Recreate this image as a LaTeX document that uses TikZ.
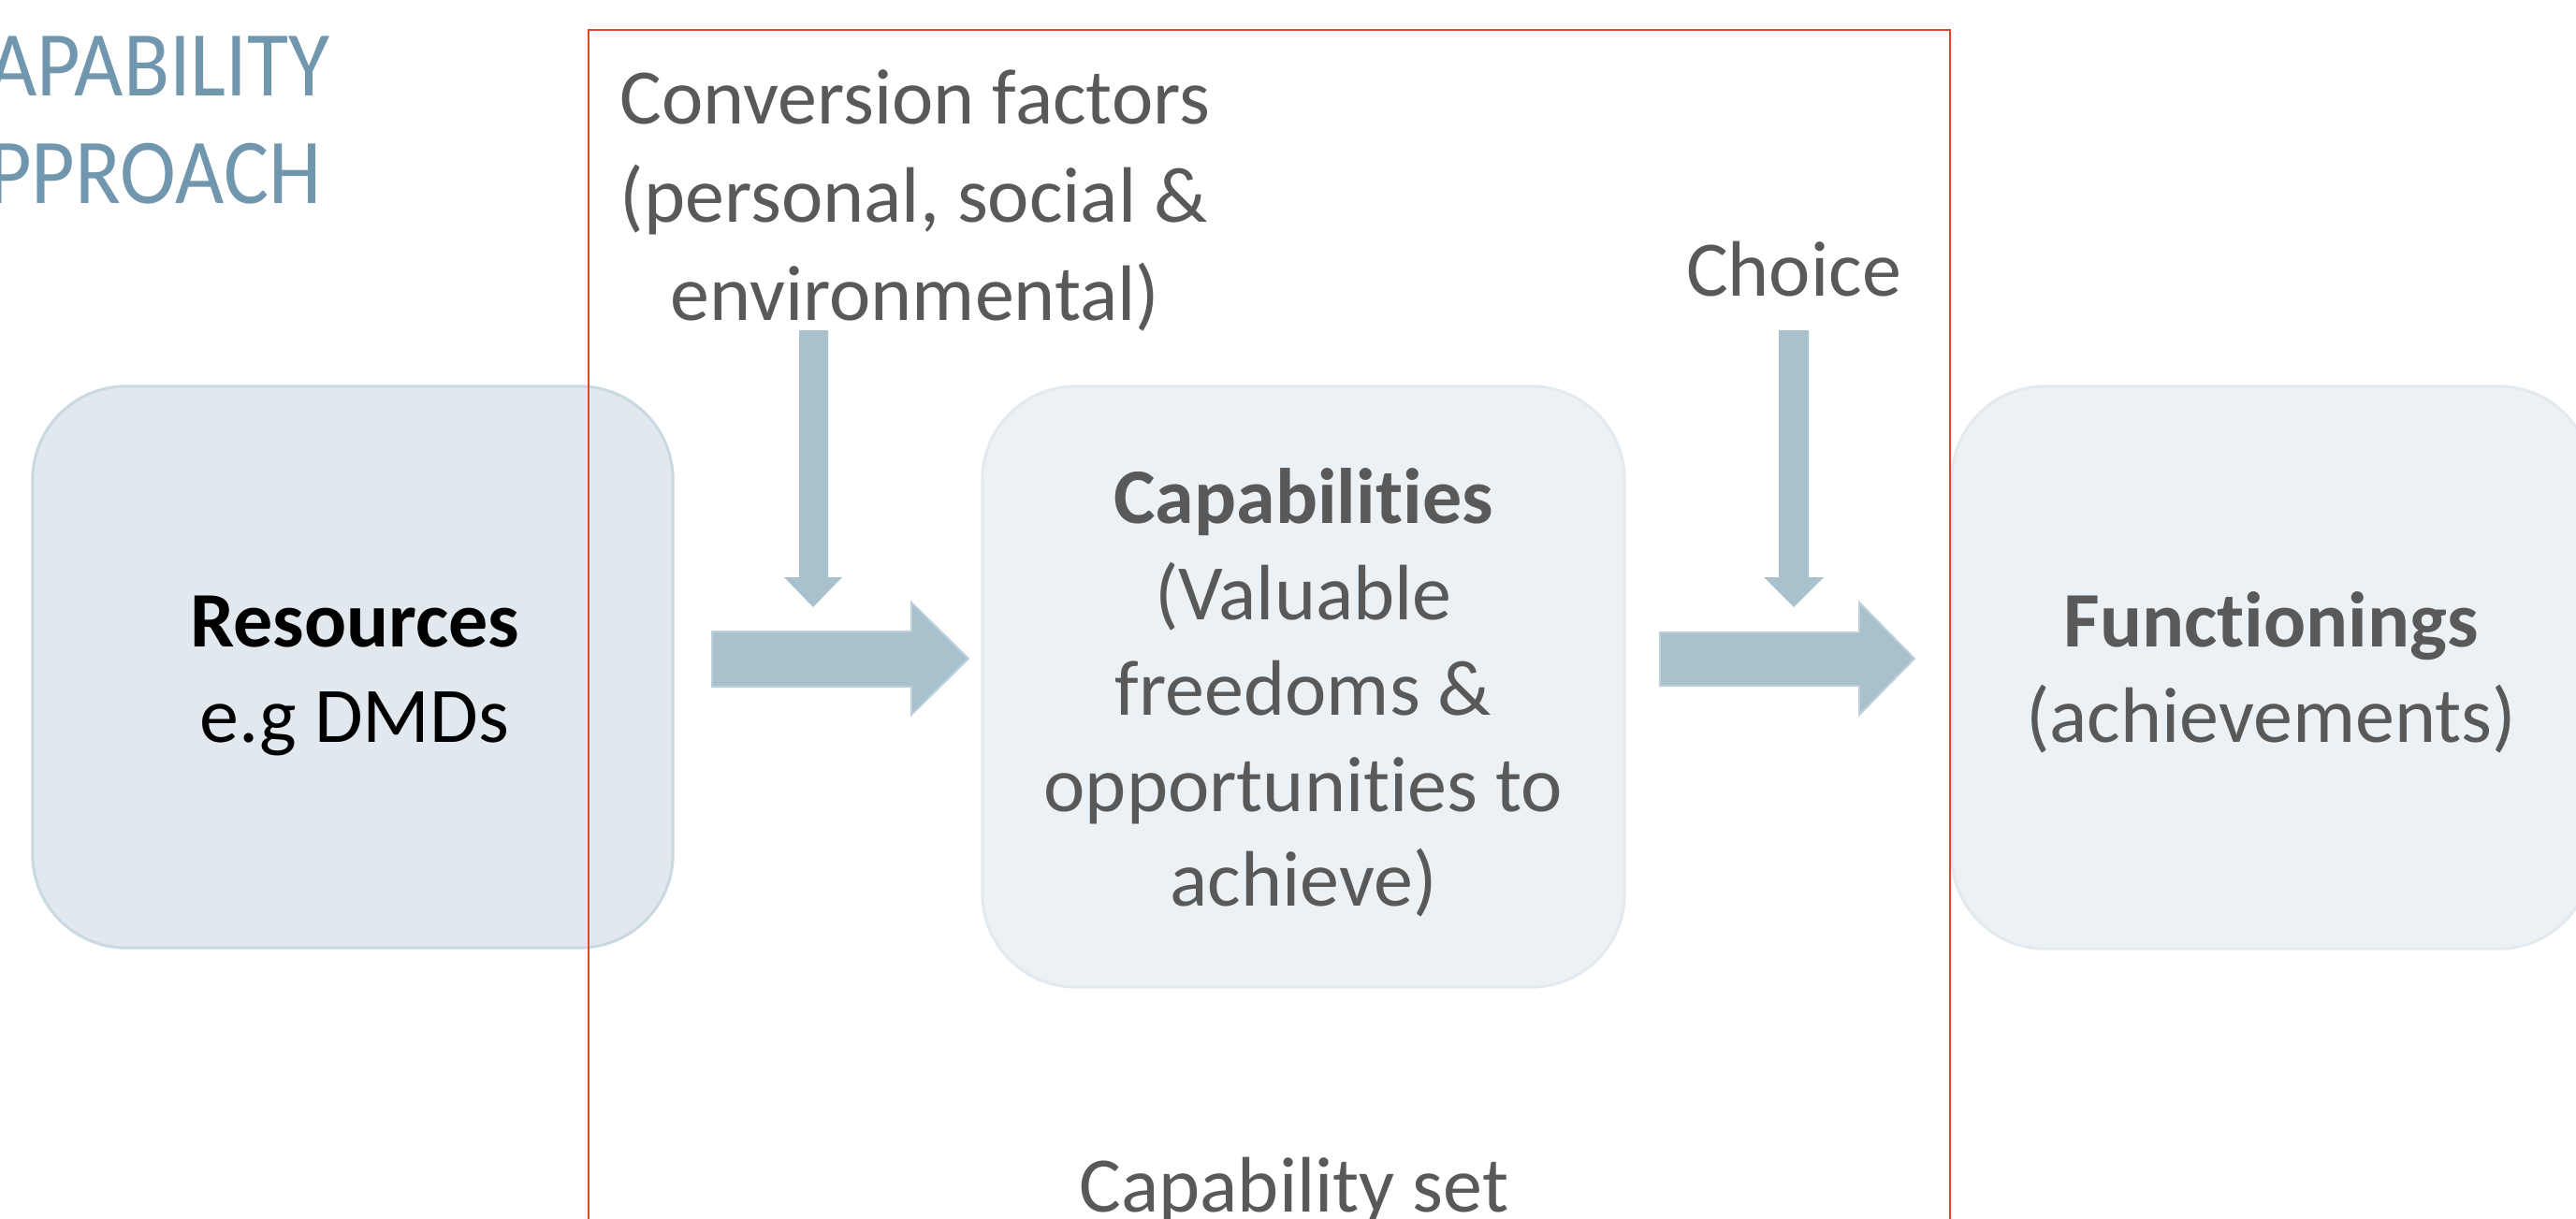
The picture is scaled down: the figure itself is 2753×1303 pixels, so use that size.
\documentclass[tikz,border=0pt]{standalone}
\usepackage{fontspec}
\setmainfont{Carlito}[Ligatures=NoCommon]
\definecolor{titleblue}{HTML}{7097AE}
\definecolor{txtgray}{HTML}{595959}
\definecolor{arrowblue}{HTML}{A9C1CD}
\definecolor{arrowedge}{HTML}{BDD0DA}
\definecolor{boxonefill}{HTML}{E1E9EF}
\definecolor{boxoneedge}{HTML}{C9D9E2}
\definecolor{boxfill}{HTML}{EBF1F4}
\definecolor{boxedge}{HTML}{E2EAEF}
\definecolor{setred}{HTML}{E8432D}
\begin{document}
\begin{tikzpicture}[x=0.01cm,y=-0.01cm,
  txt/.style={text=txtgray, font=\fontsize{23.9}{29}\selectfont, inner sep=0pt, anchor=base},
  txtb/.style={txt, font=\fontsize{23.9}{29}\selectfont\bfseries},
  titletxt/.style={text=titleblue, font=\fontsize{28.2}{32.7}\selectfont, inner sep=0pt, anchor=base east},
  rbox/.style={draw, line width=0.03cm, rounded corners=1cm, inner sep=0pt},
  blockarrow/.style={fill=arrowblue, draw=arrowedge, line width=0.02cm},
  setframe/.style={draw=setred, line width=0.028cm}]
\useasboundingbox (0,0) rectangle (2753,1303);
\clip (0,0) rectangle (2753,1303);
\fill[white] (0,0) rectangle (2753,1303);

% boxes
\node (res) [rbox, draw=boxoneedge, fill=boxonefill, minimum width=6.84cm, minimum height=6cm] at (377,713) {};
\node (cap) [rbox, draw=boxedge, fill=boxfill, minimum width=6.86cm, minimum height=6.42cm] at (1393,734) {};
\node (fun) [rbox, draw=boxedge, fill=boxfill, minimum width=6.84cm, minimum height=6.01cm] at (2428,713.5) {};

% block arrows
\draw[blockarrow] (761,675) -- (974,675) -- (974,644) -- (1035,704) -- (974,764) -- (974,734) -- (761,734) -- cycle;
\draw[blockarrow] (1774,676) -- (1987,676) -- (1987,644) -- (2046,704) -- (1987,764) -- (1987,733) -- (1774,733) -- cycle;
\fill[arrowblue] (854,353) -- (885,353) -- (885,617) -- (900,617) -- (869,649) -- (838,617) -- (854,617) -- cycle;
\fill[arrowblue] (1901,353) -- (1933,353) -- (1933,617) -- (1949,617) -- (1917,649) -- (1885,617) -- (1901,617) -- cycle;

% capability set frame
\draw[setframe] (629,32) rectangle (2084,1400);

% title
\node (t1) [titletxt] at (353,102) {\scalebox{0.91}[1]{APABILITY}};
\node (t2) [titletxt] at (344,217) {\scalebox{0.91}[1]{PPROACH}};

% texts
\node (r1) [txtb, text=black] at (379,691) {Resources};
\node (r2) [txt, text=black] at (379,793) {e.g DMDs};

\node (c1) [txtb] at (1393,559) {Capabilities};
\node (c2) [txt] at (1393,662) {(Valuable};
\node (c3) [txt] at (1393,764) {freedoms \&};
\node (c4) [txt] at (1393,867) {opportunities to};
\node (c5) [txt] at (1393,968) {achieve)};

\node (f1) [txtb] at (2427,691) {Functionings};
\node (f2) [txt] at (2427,793) {(achievements)};

\node (cv1) [txt] at (978,132) {Conversion factors};
\node (cv2) [txt] at (977,237) {(personal, social \&};
\node (cv3) [txt] at (978,342) {environmental)};

\node (ch) [txt] at (1917,316) {Choice};
\node (cs) [txt] at (1383,1295) {Capability set};
\end{tikzpicture}
\end{document}
